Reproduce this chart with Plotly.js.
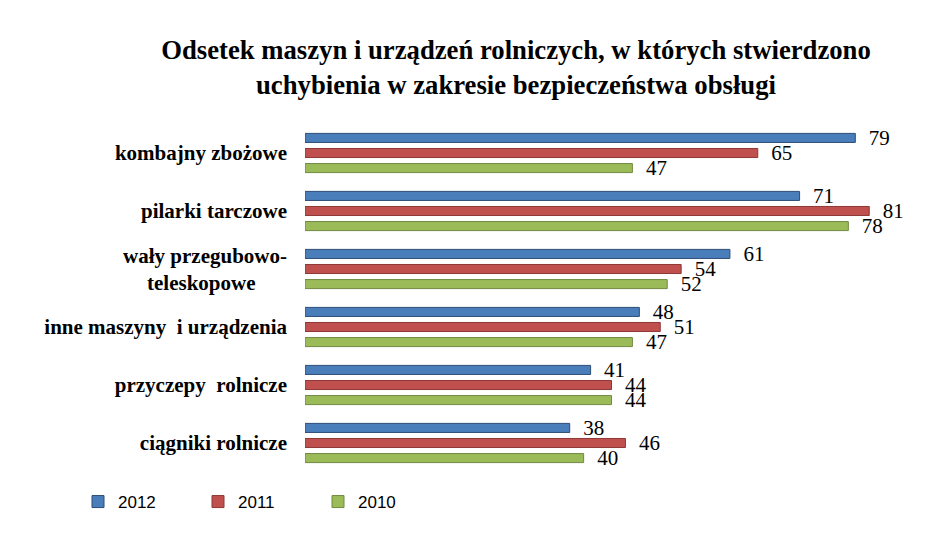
<!DOCTYPE html>
<html><head><meta charset="utf-8">
<script src="https://cdn.plot.ly/plotly-3.0.1.min.js"></script>
<style>body{margin:0;background:#fff}#chart{width:934px;height:533px}</style>
</head><body><div id="chart"></div>
<script>
const categories = ["kombajny zbożowe","pilarki tarczowe","wały przegubowo-<br>teleskopowe      ","inne maszyny  i urządzenia","przyczepy  rolnicze","ciągniki rolnicze"];
const seriesNames = ["2012","2011","2010"];
const v2012 = [79,71,61,48,41,38];
const v2011 = [65,81,54,51,44,46];
const v2010 = [47,78,52,47,44,40];
const fills = ["#4A7EBB","#C0504D","#9BBB59"];
const lines = ["#2C4D75","#8C3836","#71893F"];
const vals = [v2012,v2011,v2010];

const traces = vals.map((v,i)=>({
  type:'bar', orientation:'h', name:seriesNames[i],
  y:categories, x:v,
  text:v.map(n=>'\u00a0\u00a0'+n), textposition:'outside', constraintext:'none', cliponaxis:false,
  textfont:{family:'Liberation Serif, Times New Roman, serif', size:21, color:'#000'},
  marker:{color:fills[i], line:{color:lines[i], width:1}},
  hoverinfo:'x'
}));

const layout = {
  width:934, height:533,
  margin:{l:305, r:16, t:124, b:61},
  paper_bgcolor:'#fff', plot_bgcolor:'#fff',
  barmode:'group', bargap:0.22, bargroupgap:0.4,
  title:{text:'<b>Odsetek maszyn i urządzeń rolniczych, w których stwierdzono<br>uchybienia w zakresie bezpieczeństwa obsługi</b>',
    font:{family:'Liberation Serif, Times New Roman, serif', size:26.7, color:'#000'},
    x:516/934, xanchor:'center', xref:'container', y:(533-59)/533, yanchor:'middle', yref:'container'},
  xaxis:{range:[0,88], showticklabels:false, showgrid:false, zeroline:false, showline:false, fixedrange:true},
  yaxis:{autorange:'reversed', showgrid:false, showline:false, zeroline:false, ticks:'',
    ticklabelstandoff:17,
    tickfont:{family:'Liberation Serif, Times New Roman, serif', size:21, color:'#000', weight:'bold'}},
  showlegend:true,
  legend:{orientation:'h', xref:'container', yref:'container', x:78/934, y:(533-502)/533, yanchor:'middle', xanchor:'left',
    entrywidth:75, entrywidthmode:'pixels', itemwidth:30, traceorder:'normal',
    font:{family:'Liberation Sans, Arial, sans-serif', size:17, color:'#000'}}
};
Plotly.newPlot('chart', traces, layout, {displayModeBar:false, staticPlot:true});
</script></body></html>
